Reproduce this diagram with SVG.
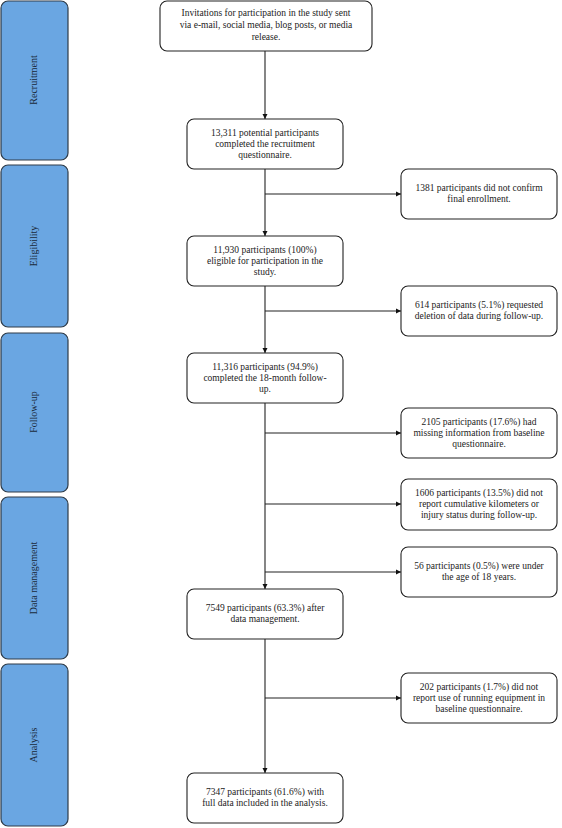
<svg xmlns="http://www.w3.org/2000/svg" width="562" height="828" viewBox="0 0 562 828">
<style>
.bar{fill:#6aa6e2;stroke:#2e3b48;stroke-width:1.2}
.box{fill:#fff;stroke:#222;stroke-width:1.1}
.t{font-family:"Liberation Serif","Times New Roman",serif;font-size:9.5px;fill:#222;text-anchor:middle}
.lbl{font-family:"Liberation Serif","Times New Roman",serif;font-size:10px;fill:#1a2a3a;text-anchor:middle}
.ln{stroke:#222;stroke-width:1.1;fill:none}
</style>
<defs>
<marker id="ah" markerWidth="6" markerHeight="6" refX="5" refY="3" orient="auto" markerUnits="userSpaceOnUse">
<path d="M0,0.5 L5,3 L0,5.5 Z" fill="#111"/>
</marker>
</defs>
<rect width="562" height="828" fill="#fff"/>
<g id="stage-recruitment"><rect class="bar" x="1" y="1" width="67" height="159" rx="7"/><text class="lbl" transform="translate(37,80) rotate(-90)">Recruitment</text></g>
<g id="stage-eligibility"><rect class="bar" x="1" y="165" width="67" height="162" rx="7"/><text class="lbl" transform="translate(37,246) rotate(-90)">Eligibility</text></g>
<g id="stage-followup"><rect class="bar" x="1" y="333" width="67" height="159" rx="7"/><text class="lbl" transform="translate(37,412) rotate(-90)">Follow-up</text></g>
<g id="stage-data"><rect class="bar" x="1" y="497" width="67" height="162" rx="7"/><text class="lbl" transform="translate(37,578) rotate(-90)">Data management</text></g>
<g id="stage-analysis"><rect class="bar" x="1" y="664" width="67" height="162" rx="7"/><text class="lbl" transform="translate(37,745) rotate(-90)">Analysis</text></g>

<g id="connectors">
<line class="ln" x1="265" y1="51" x2="265" y2="119" marker-end="url(#ah)"/>
<line class="ln" x1="265" y1="169" x2="265" y2="236" marker-end="url(#ah)"/>
<line class="ln" x1="265" y1="286" x2="265" y2="353" marker-end="url(#ah)"/>
<line class="ln" x1="265" y1="403" x2="265" y2="589" marker-end="url(#ah)"/>
<line class="ln" x1="265" y1="639" x2="265" y2="773" marker-end="url(#ah)"/>
<line class="ln" x1="265" y1="194" x2="401" y2="194" marker-end="url(#ah)"/>
<line class="ln" x1="265" y1="311" x2="401" y2="311" marker-end="url(#ah)"/>
<line class="ln" x1="265" y1="433" x2="401" y2="433" marker-end="url(#ah)"/>
<line class="ln" x1="265" y1="504" x2="401" y2="504" marker-end="url(#ah)"/>
<line class="ln" x1="265" y1="572" x2="401" y2="572" marker-end="url(#ah)"/>
<line class="ln" x1="265" y1="698" x2="401" y2="698" marker-end="url(#ah)"/>
</g>

<g id="n-invite"><rect class="box" x="160" y="1" width="212" height="50" rx="7"/>
<text class="t" x="266" y="16">Invitations for participation in the study sent</text>
<text class="t" x="266" y="28">via e-mail, social media, blog posts, or media</text>
<text class="t" x="266" y="40">release.</text></g>

<g id="n-13311"><rect class="box" x="187" y="119" width="156" height="50" rx="7"/>
<text class="t" x="265" y="136">13,311 potential participants</text>
<text class="t" x="265" y="147">completed the recruitment</text>
<text class="t" x="265" y="158">questionnaire.</text></g>

<g id="n-11930"><rect class="box" x="187" y="236" width="156" height="50" rx="7"/>
<text class="t" x="265" y="253">11,930 participants (100%)</text>
<text class="t" x="265" y="264">eligible for participation in the</text>
<text class="t" x="265" y="275">study.</text></g>

<g id="n-11316"><rect class="box" x="187" y="353" width="156" height="50" rx="7"/>
<text class="t" x="265" y="370">11,316 participants (94.9%)</text>
<text class="t" x="265" y="381">completed the 18-month follow-</text>
<text class="t" x="265" y="392">up.</text></g>

<g id="n-7549"><rect class="box" x="187" y="589" width="156" height="50" rx="7"/>
<text class="t" x="265" y="611">7549 participants (63.3%) after</text>
<text class="t" x="265" y="622">data management.</text></g>

<g id="n-7347"><rect class="box" x="187" y="773" width="156" height="50" rx="7"/>
<text class="t" x="265" y="795">7347 participants (61.6%) with</text>
<text class="t" x="265" y="806">full data included in the analysis.</text></g>

<g id="x-1381"><rect class="box" x="401" y="169" width="156" height="50" rx="7"/>
<text class="t" x="479" y="191">1381 participants did not confirm</text>
<text class="t" x="479" y="202">final enrollment.</text></g>

<g id="x-614"><rect class="box" x="401" y="286" width="156" height="50" rx="7"/>
<text class="t" x="479" y="308">614 participants (5.1%) requested</text>
<text class="t" x="479" y="319">deletion of data during follow-up.</text></g>

<g id="x-2105"><rect class="box" x="401" y="408" width="156" height="50" rx="7"/>
<text class="t" x="479" y="425">2105 participants (17.6%) had</text>
<text class="t" x="479" y="436">missing information from baseline</text>
<text class="t" x="479" y="447">questionnaire.</text></g>

<g id="x-1606"><rect class="box" x="401" y="479" width="156" height="51" rx="7"/>
<text class="t" x="479" y="496">1606 participants (13.5%) did not</text>
<text class="t" x="479" y="507">report cumulative kilometers or</text>
<text class="t" x="479" y="518">injury status during follow-up.</text></g>

<g id="x-56"><rect class="box" x="401" y="547" width="156" height="50" rx="7"/>
<text class="t" x="479" y="569">56 participants (0.5%) were under</text>
<text class="t" x="479" y="580">the age of 18 years.</text></g>

<g id="x-202"><rect class="box" x="401" y="673" width="156" height="50" rx="7"/>
<text class="t" x="479" y="690">202 participants (1.7%) did not</text>
<text class="t" x="479" y="701">report use of running equipment in</text>
<text class="t" x="479" y="712">baseline questionnaire.</text></g>
</svg>
